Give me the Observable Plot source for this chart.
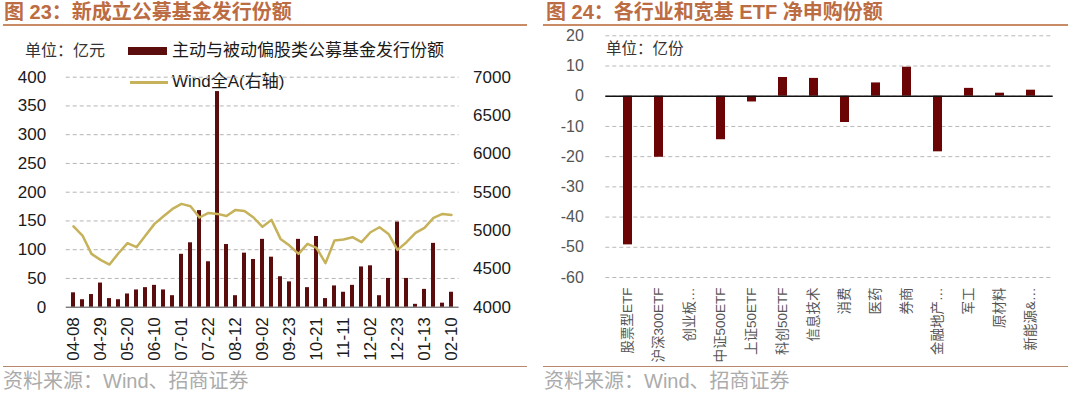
<!DOCTYPE html>
<html><head><meta charset="utf-8">
<script src="https://cdn.jsdelivr.net/npm/d3@7"></script>
<script src="https://cdn.jsdelivr.net/npm/@observablehq/plot@0.6"></script>
<style>
body{margin:0;background:#fff;}
#root{position:relative;width:1070px;height:393px;overflow:hidden;background:#fff;font-family:"Liberation Sans","Noto Sans CJK SC",sans-serif;}
.abs{position:absolute;white-space:nowrap;}
.title{font-size:20px;font-weight:bold;color:#BC6C42;line-height:24px;}
.rule{position:absolute;}
.src{font-size:20px;color:#ABABAB;line-height:22px;}
.lg{font-size:17px;color:#1a1a1a;line-height:20px;}
.unit{font-size:15.5px;color:#333;line-height:20px;}
svg{position:absolute;overflow:visible;}
</style>
</head><body>
<div id="root"></div>
<script>
// ---------- Data: left chart (图23) ----------
const weeks = ["04-08","04-15","04-22","04-29","05-06","05-13","05-20","05-27","06-03","06-10","06-17","06-24","07-01","07-08","07-15","07-22","07-29","08-05","08-12","08-19","08-26","09-02","09-09","09-16","09-23","09-30","10-14","10-21","10-28","11-04","11-11","11-18","11-25","12-02","12-09","12-16","12-23","12-30","01-06","01-13","01-20","01-27","02-10"];
const fundIssuance = [25,13,22,42,15,13,23,30,34,38,30,20,92,112,168,79,375,109,20,94,83,118,87,53,44,118,34,123,15,37,26,38,70,72,20,50,148,50,5,31,111,7,26];
const windA = [5054,4935,4696,4617,4556,4704,4835,4783,4935,5087,5187,5282,5348,5317,5170,5230,5217,5190,5269,5256,5170,5048,5139,4891,4804,4696,4826,4774,4575,4869,4883,4913,4848,4978,5043,4956,4748,4848,4970,5035,5165,5217,5204];
const weekTickLabels = ["04-08","04-29","05-20","06-10","07-01","07-22","08-12","09-02","09-23","10-21","11-11","12-02","12-23","01-13","02-10"];
const leftTicks = [0,50,100,150,200,250,300,350,400];
const rightTicks = [4000,4500,5000,5500,6000,6500,7000];

// ---------- Data: right chart (图24) ----------
const etfCats = ["股票型ETF","沪深300ETF","创业板…","中证500ETF","上证50ETF","科创50ETF","信息技术","消费","医药","券商","金融地产…","军工","原材料","新能源&…"];
const etfValues = [-49.2,-20.2,0,-14.4,-1.9,6.2,5.9,-8.7,4.4,9.6,-18.4,2.6,1.0,2.0];
const etfTicks = [-60,-50,-40,-30,-20,-10,0,10,20];

const FONT = '"Liberation Sans","Noto Sans CJK SC",sans-serif';
const root = document.getElementById("root");
function add(html){ root.insertAdjacentHTML("beforeend", html); }

// Titles & rules
add(`<div class="abs title" style="left:4px;top:0px;">图 23：新成立公募基金发行份额</div>`);
add(`<div class="rule" style="left:3px;top:23.5px;width:524px;height:2.5px;background:#C98B66;"></div>`);
add(`<div class="abs title" style="left:546px;top:0px;">图 24：各行业和宽基 ETF 净申购份额</div>`);
add(`<div class="rule" style="left:543px;top:23.5px;width:525px;height:2.5px;background:#C98B66;"></div>`);
add(`<div class="rule" style="left:3px;top:366px;width:524px;height:1px;background:#B9876C;"></div>`);
add(`<div class="rule" style="left:543px;top:366px;width:525px;height:1px;background:#B9876C;"></div>`);
add(`<div class="abs src" style="left:3px;top:370px;">资料来源：Wind、招商证券</div>`);
add(`<div class="abs src" style="left:544px;top:370px;">资料来源：Wind、招商证券</div>`);

// Left chart units & legend
add(`<div class="abs unit" style="left:25px;top:41px;font-size:16px;">单位：亿元</div>`);
add(`<div class="rule" style="left:128px;top:47px;width:39px;height:8px;background:#5B0C0C;"></div>`);
add(`<div class="abs lg" style="left:172px;top:41px;">主动与被动偏股类公募基金发行份额</div>`);
add(`<div class="rule" style="left:130px;top:80.5px;width:38px;height:3px;background:#C6B25A;"></div>`);
add(`<div class="abs lg" style="left:172px;top:72px;">Wind全A(右轴)</div>`);
// Right chart unit
add(`<div class="abs unit" style="left:606px;top:38.5px;">单位：亿份</div>`);

const flowData = weeks.map((w,i)=>({week:w, v:fundIssuance[i]}));
const windData = weeks.map((w,i)=>({week:w, v:windA[i]}));
const etfData = etfCats.map((c,i)=>({cat:c, v:etfValues[i]}));

const leftDims = {width:530, height:310, marginTop:16.7, marginBottom:63.3, marginLeft:65.7, marginRight:71.4};
const xBand = {type:"band", domain:weeks, paddingInner:0.56, paddingOuter:0.28, label:null};
const plain = d => String(d);

const barsPlot = Plot.plot({
  ...leftDims,
  style:{fontFamily:FONT, fontSize:"17px", color:"#1a1a1a", background:"transparent"},
  x:xBand,
  y:{domain:[0,400], label:null},
  marks:[
    Plot.gridY(leftTicks.slice(1),{stroke:"#b4b4b4", strokeOpacity:1, strokeDasharray:"4,3"}),
    Plot.barY(flowData,{x:"week", y:"v", fill:"#5B0C0C"}),
    Plot.ruleY([0],{stroke:"#444"}),
    Plot.axisY(leftTicks,{tickSize:0, tickPadding:20, fontSize:17, label:null, tickFormat:plain}),
    Plot.axisX(weekTickLabels,{tickSize:0, tickPadding:10, tickRotate:-90, fontSize:17, label:null})
  ]
});
barsPlot.style.left="0px"; barsPlot.style.top="60px";
root.appendChild(barsPlot);

const linePlot = Plot.plot({
  ...leftDims,
  style:{fontFamily:FONT, fontSize:"17px", color:"#1a1a1a", background:"transparent"},
  x:{...xBand, axis:null},
  y:{domain:[4000,7000], label:null},
  marks:[
    Plot.lineY(windData,{x:"week", y:"v", stroke:"#C6B25A", strokeWidth:2.5}),
    Plot.axisY(rightTicks,{anchor:"right", tickSize:0, tickPadding:14, fontSize:17, label:null, tickFormat:plain})
  ]
});
linePlot.style.left="0px"; linePlot.style.top="60px";
root.appendChild(linePlot);

const etfPlot = Plot.plot({
  width:530, height:350, marginTop:15.3, marginBottom:93, marginLeft:65.3, marginRight:17.3,
  style:{fontFamily:FONT, fontSize:"16px", color:"#555", background:"transparent"},
  x:{type:"band", domain:etfCats, paddingInner:0.7, paddingOuter:0.35, label:null},
  y:{domain:[-60,20], label:null},
  marks:[
    Plot.gridY(etfTicks,{stroke:"#b8b8b8", strokeOpacity:1, strokeDasharray:"4,3"}),
    Plot.barY(etfData,{x:"cat", y:"v", fill:"#6B0505"}),
    Plot.ruleY([0],{stroke:"#111", strokeWidth:1.5}),
    Plot.axisY(etfTicks,{tickSize:0, tickPadding:22, fontSize:16, label:null, tickFormat:plain}),
    Plot.axisX({tickSize:0, tickPadding:10, tickRotate:-90, fontSize:13.5, label:null})
  ]
});
etfPlot.style.left="540px"; etfPlot.style.top="20px";
root.appendChild(etfPlot);
</script>
</body></html>
